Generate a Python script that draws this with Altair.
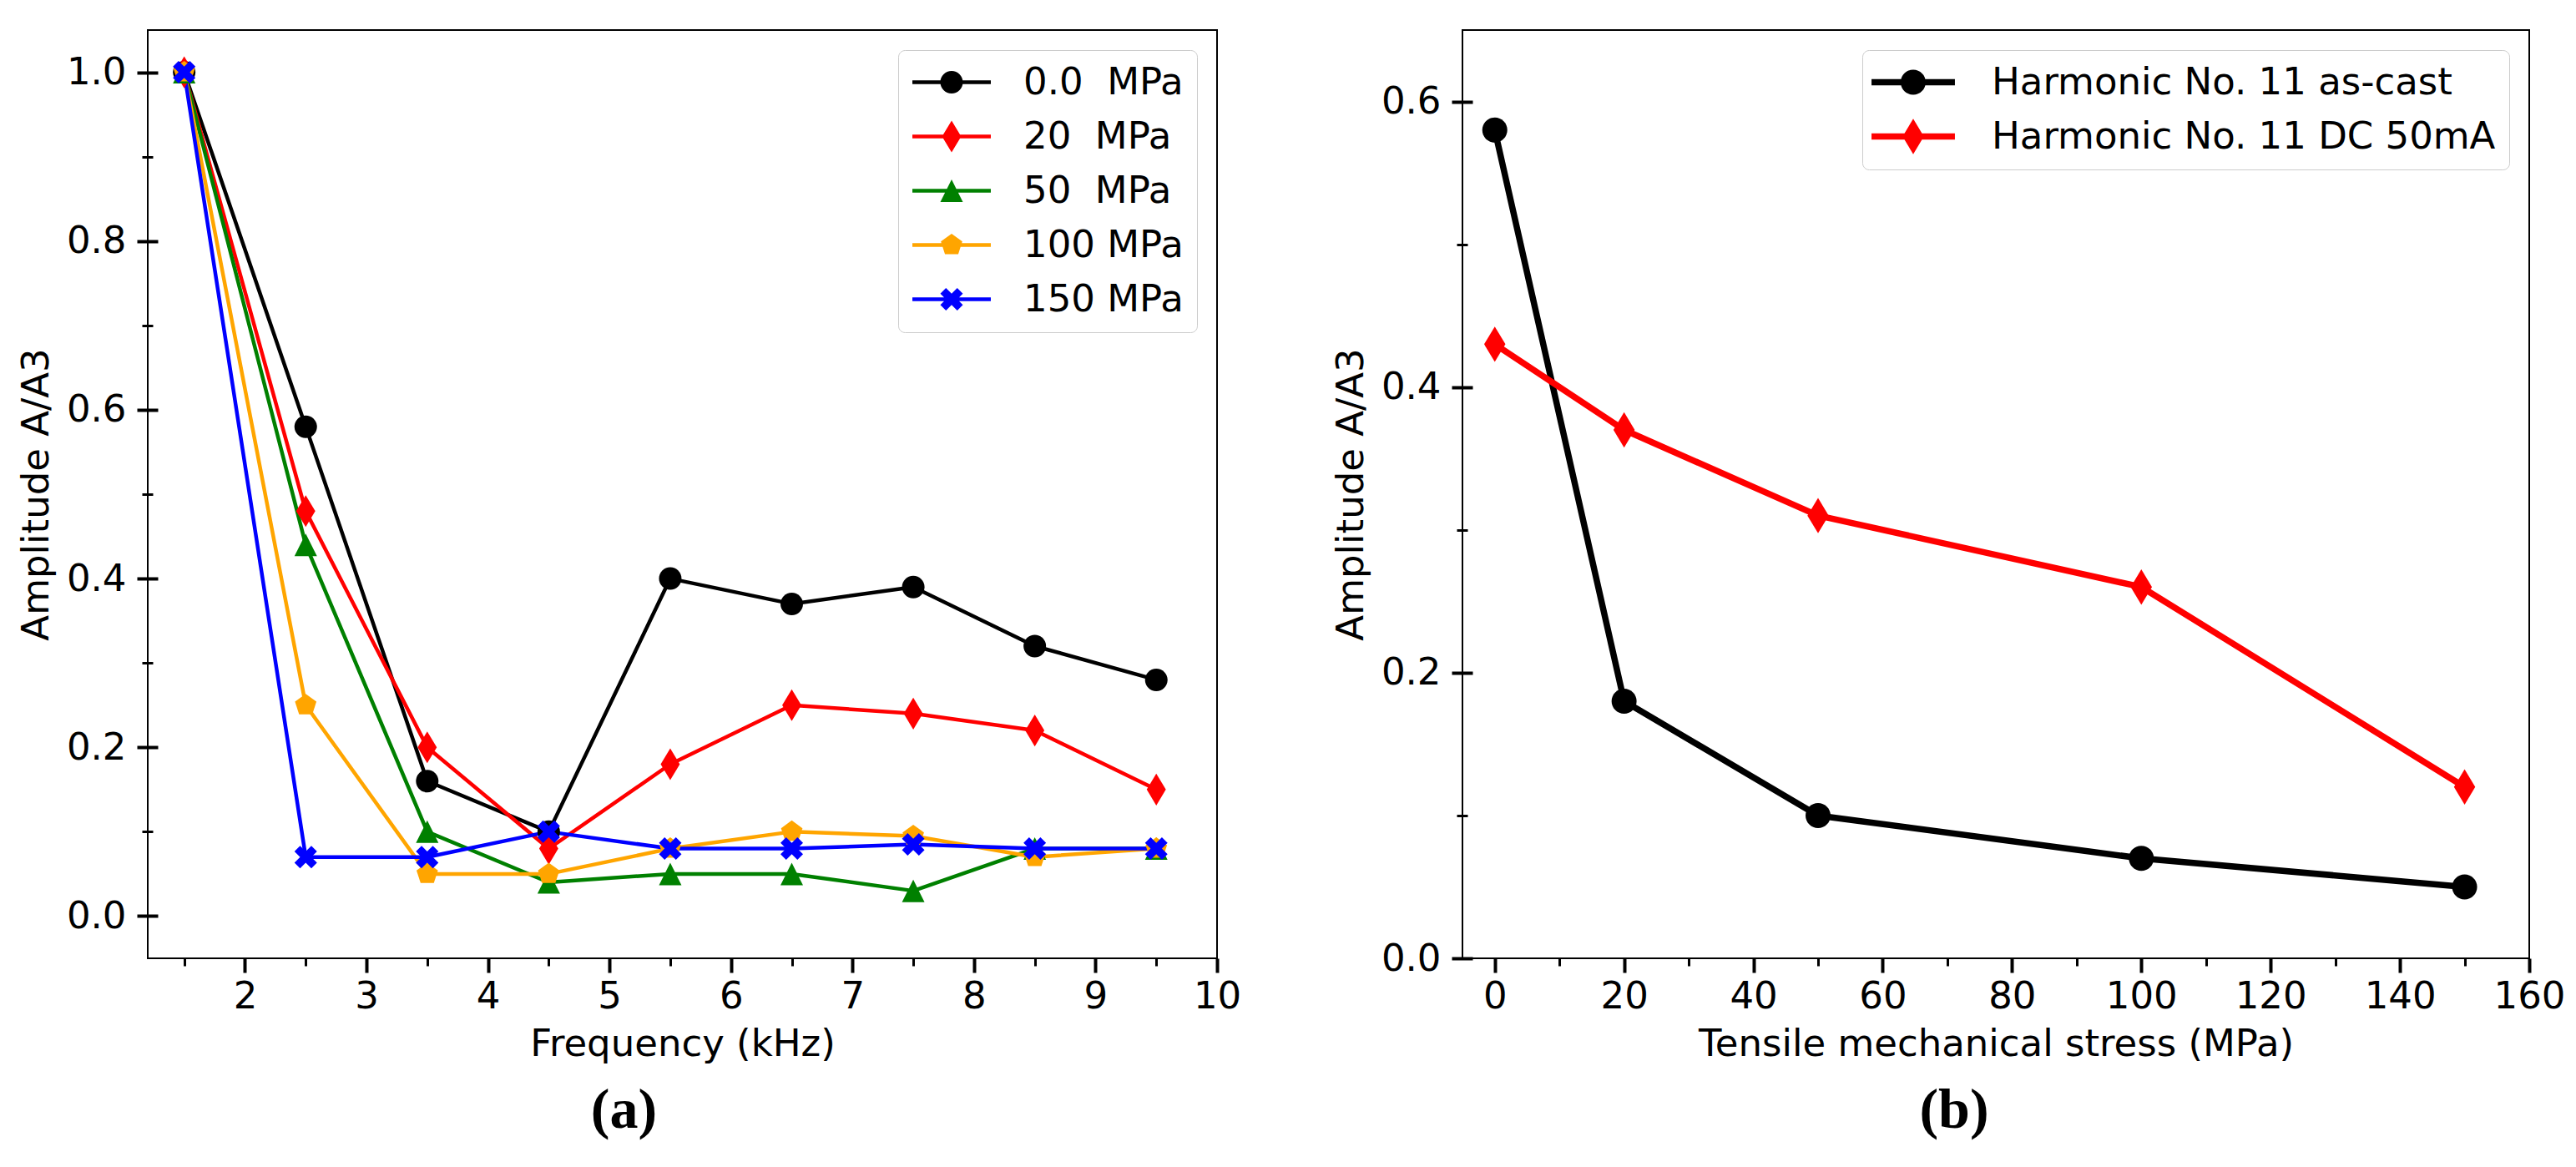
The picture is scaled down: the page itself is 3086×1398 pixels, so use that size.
import altair as alt
import pandas as pd

# ---------------- Panel (a) data ----------------
freq_khz = [1.5, 2.5, 3.5, 4.5, 5.5, 6.5, 7.5, 8.5, 9.5]
series_a = ["0.0\u00a0 MPa", "20\u00a0 MPa", "50\u00a0 MPa", "100 MPa", "150 MPa"]
amp_0 = [1.0, 0.58, 0.16, 0.10, 0.40, 0.37, 0.39, 0.32, 0.28]
amp_20 = [1.0, 0.48, 0.20, 0.08, 0.18, 0.25, 0.24, 0.22, 0.15]
amp_50 = [1.0, 0.44, 0.10, 0.04, 0.05, 0.05, 0.03, 0.08, 0.08]
amp_100 = [1.0, 0.25, 0.05, 0.05, 0.08, 0.10, 0.095, 0.07, 0.08]
amp_150 = [1.0, 0.07, 0.07, 0.10, 0.08, 0.08, 0.085, 0.08, 0.08]
colors_a = ["black", "red", "green", "orange", "blue"]
x_major_a = [2, 3, 4, 5, 6, 7, 8, 9, 10]
x_minor_a = [1.5, 2.5, 3.5, 4.5, 5.5, 6.5, 7.5, 8.5, 9.5]
y_major_a = [0.0, 0.2, 0.4, 0.6, 0.8, 1.0]
y_minor_a = [0.1, 0.3, 0.5, 0.7, 0.9]

# ---------------- Panel (b) data ----------------
stress_mpa = [0, 20, 50, 100, 150]
series_b = ["Harmonic No. 11 as-cast", "Harmonic No. 11 DC 50mA"]
amp_cast = [0.58, 0.18, 0.10, 0.07, 0.05]
amp_dc = [0.43, 0.37, 0.31, 0.26, 0.12]
colors_b = ["black", "red"]
x_major_b = [0, 20, 40, 60, 80, 100, 120, 140, 160]
x_minor_b = [10, 30, 50, 70, 90, 110, 130, 150]
y_major_b = [0.0, 0.2, 0.4, 0.6]
y_minor_b = [0.1, 0.3, 0.5]

# ---------------- marker shapes (matplotlib-like) ----------------
CIRCLE = "M1,0A1,1,0,1,1,-1,0A1,1,0,1,1,1,0Z"
THIN_DIAMOND = "M0,-1.414L0.849,0L0,1.414L-0.849,0Z"
TRIANGLE = "M0,-1L1,1L-1,1Z"
PENTAGON = "M0,-1L0.951,-0.309L0.588,0.809L-0.588,0.809L-0.951,-0.309Z"
X_FILLED = "M-0.5,-1L0,-0.5L0.5,-1L1,-0.5L0.5,0L1,0.5L0.5,1L0,0.5L-0.5,1L-1,0.5L-0.5,0L-1,-0.5Z"


def bar(half_len, half_th):
    return f"M{-half_len},{-half_th}H{half_len}V{half_th}H{-half_len}Z"


markers_a = [CIRCLE, THIN_DIAMOND, TRIANGLE, PENTAGON, X_FILLED]
markers_b = [CIRCLE, THIN_DIAMOND]
legend_a = [m + bar(3.48, 0.16) for m in markers_a]
legend_b = [m + bar(3.33, 0.25) for m in markers_b]

FONT = "DejaVu Sans"
FS = 45


def make_df(xs, names, series_vals):
    rows = []
    for name, vals in zip(names, series_vals):
        for xv, yv in zip(xs, vals):
            rows.append({"x": xv, "y": yv, "series": name, "key": name})
    return pd.DataFrame(rows)


df_a = make_df(freq_khz, series_a, [amp_0, amp_20, amp_50, amp_100, amp_150])
df_b = make_df(stress_mpa, series_b, [amp_cast, amp_dc])


def panel(df, names, colors, markers, legend_paths, x_dom, y_dom,
          x_major, x_minor, y_major, y_minor, x_title, sub, msize, lw,
          sym_off, lab_off, width, height, title_dx):
    xs = alt.Scale(domain=x_dom, nice=False, zero=False)
    ys = alt.Scale(domain=y_dom, nice=False, zero=False)
    x_major_axis = alt.Axis(values=x_major, format="d", orient="bottom",
                            tickSize=17, tickWidth=4, labelPadding=6,
                            domain=False, grid=False, labelFlush=False,
                            labelOverlap=False, title=x_title, titlePadding=12)
    x_minor_axis = alt.Axis(values=x_minor, orient="bottom", tickSize=9,
                            tickWidth=3, labels=False, domain=False,
                            grid=False, title="")
    y_major_axis = alt.Axis(values=y_major, format=".1f", orient="left",
                            offset=-12, tickSize=25, tickWidth=4,
                            labelPadding=13, domain=False, grid=False,
                            labelOverlap=False, title="Amplitude A/A3",
                            titlePadding=13)
    y_minor_axis = alt.Axis(values=y_minor, orient="left", offset=-6,
                            tickSize=13, tickWidth=3, labels=False,
                            domain=False, grid=False, title="")
    color_scale = alt.Scale(domain=names, range=colors)

    lines = alt.Chart(df).mark_line(strokeWidth=lw, strokeJoin="round").encode(
        x=alt.X("x:Q", scale=xs, axis=x_major_axis),
        y=alt.Y("y:Q", scale=ys, axis=y_major_axis),
        color=alt.Color("series:N", scale=color_scale, legend=None),
    )
    points = alt.Chart(df).mark_point(filled=True, size=msize, opacity=1,
                                      strokeWidth=0).encode(
        x=alt.X("x:Q", scale=xs, axis=None),
        y=alt.Y("y:Q", scale=ys, axis=None),
        color=alt.Color("series:N", scale=color_scale, legend=None),
        shape=alt.Shape("series:N", scale=alt.Scale(domain=names, range=markers),
                        legend=None),
    )
    leg = alt.Legend(orient="top-right", offset=24, title=None,
                     labelFont=FONT, labelFontSize=FS, labelColor="black",
                     labelLimit=2000, symbolSize=msize, symbolStrokeWidth=0,
                     symbolOffset=sym_off, labelOffset=lab_off, padding=16,
                     rowPadding=19, strokeColor="#cccccc", fillColor="white",
                     cornerRadius=8)
    legend_layer = alt.Chart(df).transform_filter("false").mark_point(
        filled=True, size=msize, opacity=1, strokeWidth=0).encode(
        x=alt.X("x:Q", scale=xs, axis=x_minor_axis),
        y=alt.Y("y:Q", scale=ys, axis=y_minor_axis),
        color=alt.Color("key:N", scale=alt.Scale(domain=names, range=colors),
                        legend=leg),
        shape=alt.Shape("key:N", scale=alt.Scale(domain=names, range=legend_paths),
                        legend=leg),
    )
    return alt.layer(lines, points, legend_layer).resolve_scale(
        color="independent", shape="independent"
    ).resolve_axis(x="independent", y="independent").properties(
        width=width, height=height,
        title=alt.TitleParams(sub, orient="bottom", anchor="middle",
                              frame="group", font="Liberation Serif",
                              fontSize=68, fontWeight="bold", color="black",
                              offset=24, dx=title_dx),
    )


panel_a = panel(df_a, series_a, colors_a, markers_a, legend_a, [1.2, 10],
                [-0.05, 1.05], x_major_a, x_minor_a, y_major_a, y_minor_a,
                "Frequency (kHz)", "(a)", 729, 4.5, 25.5, 63.5, 1281, 1112, -70)
panel_b = panel(df_b, series_b, colors_b, markers_b, legend_b, [-5, 160],
                [0, 0.65], x_major_b, x_minor_b, y_major_b, y_minor_b,
                "Tensile mechanical stress (MPa)", "(b)", 900, 7.5, 22.5, 71.5,
                1278, 1112, -50)

chart = alt.hconcat(panel_a, panel_b, spacing=294, bounds="flush").resolve_scale(
    color="independent", shape="independent"
).properties(
    padding={"left": 12, "top": 27, "right": 0, "bottom": 0}
).configure(font=FONT).configure_view(
    stroke="black", strokeWidth=2
).configure_axis(
    labelFont=FONT, titleFont=FONT, labelFontSize=FS, titleFontSize=FS,
    labelColor="black", titleColor="black", tickColor="black",
    titleFontWeight="normal"
)

chart.save("out.html", embed_options={"renderer": "svg", "actions": False})
